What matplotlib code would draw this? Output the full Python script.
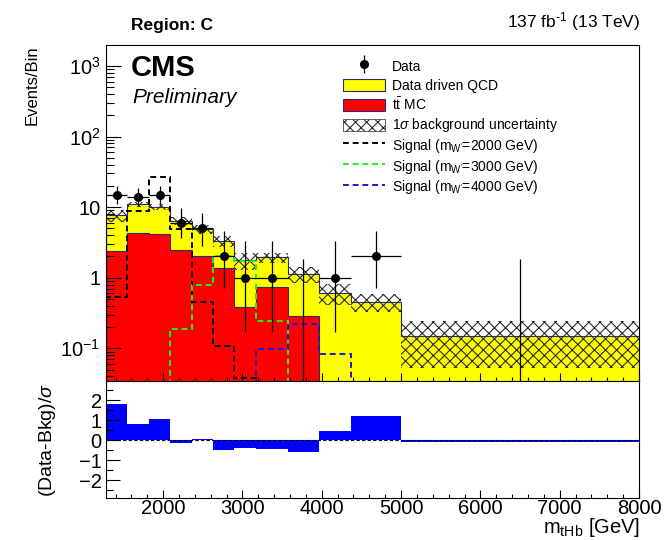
import numpy as np
import matplotlib
matplotlib.use("Agg")
import matplotlib.pyplot as plt
from matplotlib.patches import Patch, Rectangle
from matplotlib.lines import Line2D
from matplotlib.legend_handler import HandlerTuple, HandlerPatch
from matplotlib.ticker import FixedLocator, FixedFormatter, MultipleLocator, LogLocator, NullFormatter

plt.rcParams['font.family'] = ['Liberation Sans', 'DejaVu Sans']
plt.rcParams['mathtext.fontset'] = 'custom'
plt.rcParams['mathtext.rm'] = 'Liberation Sans'
plt.rcParams['mathtext.it'] = 'Liberation Sans:italic'
plt.rcParams['mathtext.bf'] = 'Liberation Sans:bold'
plt.rcParams['hatch.linewidth'] = 0.8

# binning en m_tHb (GeV)
edges = np.array([1280, 1550, 1820, 2090, 2360, 2630, 2900, 3170, 3570, 3970, 4370, 5000, 8000])

# fonds empiles
qcd = np.array([5.3, 6.7, 6.05, 4.0, 2.85, 1.91, 1.39, 1.22, 0.84, 0.61, 0.46, 0.149])
ttbar = np.array([2.4, 4.3, 4.15, 2.45, 2.05, 1.39, 0.39, 0.73, 0.29, 0.0, 0.0, 0.0])
bkg_unc = np.array([1.5, 0.9, 1.0, 0.85, 0.7, 0.55, 0.48, 0.32, 0.3, 0.2, 0.13, 0.097])

# donnees + erreurs de Poisson
data = np.array([15, 14, 15, 6, 5, 2, 1, 1, 0, 1, 2, 0])
data_lo = np.array([3.83, 3.71, 3.83, 2.38, 2.16, 1.29, 0.83, 0.83, 0.0, 0.83, 1.29, 0.0])
data_hi = np.array([4.95, 4.83, 4.95, 3.58, 3.38, 2.64, 2.30, 2.30, 1.84, 2.30, 2.64, 1.84])

# signaux W'
sig_2000 = np.array([0.54, 8.8, 26.4, 4.9, 0.45, 0.109, 0.038, 0, 0, 0, 0, 0])
sig_3000 = np.array([0, 0, 0, 0.19, 0.79, 2.03, 1.7, 0.246, 0, 0, 0, 0])
sig_4000 = np.array([0, 0, 0, 0, 0, 0, 0, 0.097, 0.22, 0.083, 0, 0])

# pull (Data-Bkg)/sigma
pull = np.array([1.78, 0.82, 1.07, -0.17, 0.05, -0.5, -0.42, -0.45, -0.62, 0.45, 1.2, -0.08])

W, H = 671, 540
def fx(x):
    return x / W
def fy(y):
    return 1 - y / H

# boite de legende moins haute que la ligne
def boite(legend, orig_handle, xdescent, ydescent, width, height, fontsize):
    return Rectangle((-xdescent, -ydescent + 0.13 * height), width, 0.74 * height)

fig = plt.figure(figsize=(W / 100, H / 100), dpi=100)
L, R = 106, 639
ax = fig.add_axes([fx(L), fy(381), (R - L) / W, (381 - 45) / H])
rax = fig.add_axes([fx(L), fy(498), (R - L) / W, (498 - 381) / H], sharex=ax)

outline = '#2b2b7a'
hatch_col = '#2a2a2a'
total = qcd + ttbar
centers = 0.5 * (edges[1:] + edges[:-1])
half = 0.5 * (edges[1:] - edges[:-1])

ax.set_yscale('log')
ax.stairs(total, edges, baseline=0, fill=True, color='#ffff00', lw=0)
ax.stairs(ttbar, edges, baseline=0, fill=True, color='#ff0000', lw=0)
ax.stairs(total, edges, baseline=0, color=outline, lw=0.8)
ax.stairs(ttbar, edges, baseline=0, color=outline, lw=0.8)
ax.stairs(total + bkg_unc, edges, baseline=total - bkg_unc, fill=True,
          facecolor='none', edgecolor=hatch_col, hatch='xxx', lw=0)

dash = (0, (3, 2))
ax.stairs(sig_2000, edges, baseline=0, color='black', ls=dash, lw=1.4)
ax.stairs(sig_3000, edges, baseline=0, color='#22ee22', ls=dash, lw=1.4)
ax.stairs(sig_4000, edges, baseline=0, color='#1a1acc', ls=dash, lw=1.4)

ok = data > 0
ax.errorbar(centers[ok], data[ok], xerr=half[ok], yerr=[data_lo[ok], data_hi[ok]],
            fmt='o', color='black', ms=5.5, elinewidth=0.9, capsize=0)
ax.vlines(centers[~ok], data[~ok], data[~ok] + data_hi[~ok], color='black', lw=0.9)

ax.set_xlim(1280, 8000)
ax.set_ylim(0.0344, 1980)
ax.yaxis.set_major_locator(FixedLocator([0.1, 1, 10, 100, 1000]))
ax.yaxis.set_major_formatter(FixedFormatter(['$10^{-1}$', '1', '10', '$10^{2}$', '$10^{3}$']))
ax.yaxis.set_minor_locator(LogLocator(base=10, subs=np.arange(2, 10)))
ax.yaxis.set_minor_formatter(NullFormatter())
ax.xaxis.set_major_locator(MultipleLocator(1000))
ax.xaxis.set_minor_locator(MultipleLocator(200))
ax.tick_params(axis='both', which='both', direction='in', top=False, right=False, width=0.8)
ax.tick_params(axis='y', which='major', length=11, labelsize=14.5, pad=4)
ax.tick_params(axis='y', which='minor', length=5.5)
ax.tick_params(axis='x', which='major', length=6, labelbottom=False)
ax.tick_params(axis='x', which='minor', length=3)

# panel du bas
rax.stairs(pull, edges, baseline=0, fill=True, color='#0000ff', lw=0)
rax.axhline(0, color='black', ls=dash, lw=0.8)
rax.set_ylim(-2.9, 2.95)
rax.yaxis.set_major_locator(FixedLocator([-2, -1, 0, 1, 2]))
rax.yaxis.set_minor_locator(MultipleLocator(0.5))
rax.tick_params(axis='both', which='both', direction='in', top=False, right=False, width=0.8)
rax.tick_params(axis='y', which='major', length=10, labelsize=14.5, pad=3)
rax.tick_params(axis='y', which='minor', length=5)
rax.tick_params(axis='x', which='major', length=6, labelsize=14.5, pad=0.5)
rax.tick_params(axis='x', which='minor', length=3)

for a in (ax, rax):
    for s in a.spines.values():
        s.set_linewidth(0.8)

# textes
fig.text(fx(131), fy(30), 'Region: C', fontsize=12.5, fontweight='bold', ha='left', va='baseline')
fig.text(fx(640), fy(27), r'137 fb$^{\text{-1}}$ (13 TeV)', fontsize=12.5, ha='right', va='baseline')
fig.text(fx(131), fy(76), 'CMS', fontsize=21, fontweight='bold', ha='left', va='baseline')
fig.text(fx(132), fy(103), 'Preliminary', fontsize=15, style='italic', ha='left', va='baseline')
fig.text(fx(32), fy(45), 'Events/Bin', fontsize=12, rotation=90, ha='center', va='top')
fig.text(fx(47), fy(440), r'(Data-Bkg)/$\sigma$', fontsize=14, rotation=90, ha='center', va='center')
fig.text(fx(640), fy(533), r'm$_{\mathrm{tHb}}$ [GeV]', fontsize=14.5, ha='right', va='baseline')

# legende
h_data = (Line2D([], [], marker='|', color='black', ls='none', ms=13, mew=0.9),
          Line2D([], [], marker='o', color='black', ls='none', ms=5.5))
handles = [
    h_data,
    Patch(facecolor='#ffff00', edgecolor=outline, lw=0.8),
    Patch(facecolor='#ff0000', edgecolor=outline, lw=0.8),
    Patch(facecolor='white', edgecolor=hatch_col, hatch='xxx', lw=0.5),
    Line2D([], [], color='black', ls=dash, lw=1.4),
    Line2D([], [], color='#22ee22', ls=dash, lw=1.4),
    Line2D([], [], color='#1a1acc', ls=dash, lw=1.4),
]
labels = [
    'Data',
    'Data driven QCD',
    r'$\mathrm{t\bar{t}}$ MC',
    r'1$\sigma$ background uncertainty',
    r"Signal (m$_{\mathrm{W'}}$=2000 GeV)",
    r"Signal (m$_{\mathrm{W'}}$=3000 GeV)",
    r"Signal (m$_{\mathrm{W'}}$=4000 GeV)",
]
fig.legend(handles, labels, loc='upper left', bbox_to_anchor=(fx(343), fy(58)),
           frameon=False, fontsize=10, borderpad=0, borderaxespad=0,
           handlelength=3.0, handleheight=1.45, handletextpad=0.5, labelspacing=0.19,
           handler_map={tuple: HandlerTuple(ndivide=1), Patch: HandlerPatch(patch_func=boite)})

fig.savefig('out.png', dpi=100)
